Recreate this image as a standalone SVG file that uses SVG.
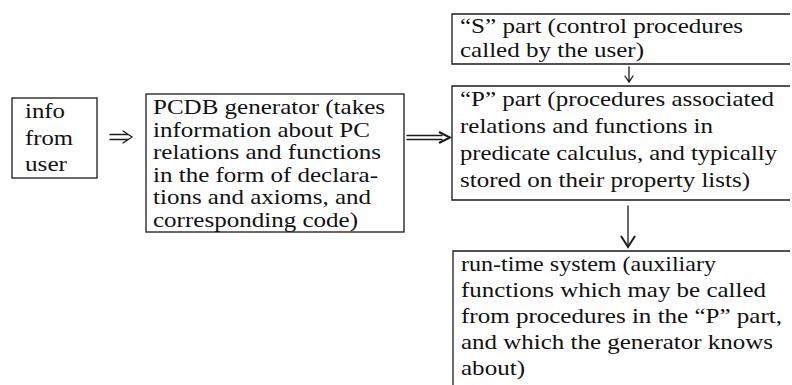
<svg xmlns="http://www.w3.org/2000/svg" width="792" height="385" viewBox="0 0 792 385">
<style>
.box{fill:none;stroke:#1a1a1a;stroke-width:1.3}
.t{font-family:"Liberation Serif","Times New Roman",serif;font-size:21px;fill:#111}
.c{fill:none;stroke:#1a1a1a;stroke-width:1.3;stroke-linecap:round;stroke-linejoin:miter}
.cb{fill:none;stroke:#1a1a1a;stroke-width:2;stroke-linejoin:miter}
</style>
<rect width="792" height="385" fill="#fff"/>
<g id="info">
<rect class="box" x="12" y="98" width="85" height="80"/>
<text class="t" x="25" y="118" textLength="40" lengthAdjust="spacingAndGlyphs">info</text>
<text class="t" x="25" y="144.5" textLength="48" lengthAdjust="spacingAndGlyphs">from</text>
<text class="t" x="25" y="171" textLength="42" lengthAdjust="spacingAndGlyphs">user</text>
</g>
<g id="pcdb">
<rect class="box" x="146" y="94" width="258" height="138"/>
<text class="t" x="153" y="114" textLength="232" lengthAdjust="spacingAndGlyphs">PCDB generator (takes</text>
<text class="t" x="153" y="136.5" textLength="217" lengthAdjust="spacingAndGlyphs">information about PC</text>
<text class="t" x="153" y="159" textLength="228" lengthAdjust="spacingAndGlyphs">relations and functions</text>
<text class="t" x="153" y="181.5" textLength="225" lengthAdjust="spacingAndGlyphs">in the form of declara-</text>
<text class="t" x="153" y="204" textLength="218" lengthAdjust="spacingAndGlyphs">tions and axioms, and</text>
<text class="t" x="153" y="226.5" textLength="205" lengthAdjust="spacingAndGlyphs">corresponding code)</text>
</g>
<g id="s-part">
<path class="box" d="M790,14 H452 V64 H790"/>
<text class="t" x="460" y="33" textLength="283" lengthAdjust="spacingAndGlyphs">“S” part (control procedures</text>
<text class="t" x="460" y="57" textLength="184" lengthAdjust="spacingAndGlyphs">called by the user)</text>
</g>
<g id="p-part">
<path class="box" d="M790,86 H452 V200 H790"/>
<text class="t" x="460" y="106" textLength="314" lengthAdjust="spacingAndGlyphs">“P” part (procedures associated</text>
<text class="t" x="460" y="133" textLength="253" lengthAdjust="spacingAndGlyphs">relations and functions in</text>
<text class="t" x="460" y="160" textLength="317" lengthAdjust="spacingAndGlyphs">predicate calculus, and typically</text>
<text class="t" x="460" y="187" textLength="290" lengthAdjust="spacingAndGlyphs">stored on their property lists)</text>
</g>
<g id="runtime">
<path class="box" d="M790,251 H453 V385"/>
<text class="t" x="461" y="271" textLength="255" lengthAdjust="spacingAndGlyphs">run-time system (auxiliary</text>
<text class="t" x="461" y="297" textLength="305" lengthAdjust="spacingAndGlyphs">functions which may be called</text>
<text class="t" x="461" y="323" textLength="321" lengthAdjust="spacingAndGlyphs">from procedures in the “P” part,</text>
<text class="t" x="461" y="349" textLength="312" lengthAdjust="spacingAndGlyphs">and which the generator knows</text>
<text class="t" x="461" y="375" textLength="64" lengthAdjust="spacingAndGlyphs">about)</text>
</g>
<g id="connectors">
<path class="c" d="M110,134.5 H128 M110,139.5 H128 M123,131 L132,137 L123,143"/>
<path class="c" d="M407,135.5 H442 M407,139.5 H442"/>
<path class="cb" d="M439,132 L450,137.5 L439,143"/>
<path class="c" d="M629,67 V81 M625,76 L629,82 L633,76"/>
<path class="c" d="M628,206 V246"/>
<path class="cb" d="M621,236 L628,247 L635,236"/>
</g>
</svg>
